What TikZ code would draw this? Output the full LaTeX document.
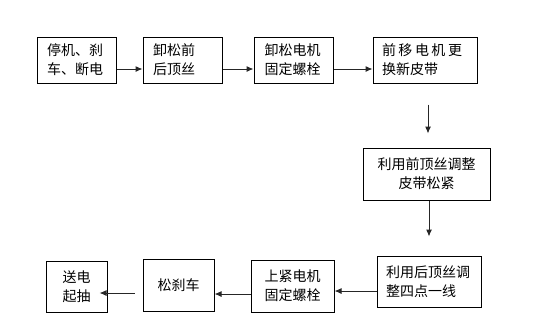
\documentclass[tikz,border=0pt]{standalone}
\usepackage{fontspec}
\newfontfamily\cjk{Noto Sans CJK SC}
\usetikzlibrary{arrows.meta}
\begin{document}
\begin{tikzpicture}[x=1pt,y=-1pt,
  box/.style={draw=black, line width=1pt, inner sep=0pt, font=\cjk\fontsize{14pt}{19pt}\selectfont},
  lbox/.style={box, align=left},
  cbox/.style={box, align=center},
  arr/.style={draw=black!85, line width=1pt, -{Latex[length=7pt,width=6pt]}}]
\useasboundingbox (0,0) rectangle (535,322);
\fill[white] (0,0) rectangle (535,322);
% top row
\node[lbox, minimum width=79pt, minimum height=46pt, text width=59pt] (b1) at (76.5,60) {停机、刹\\车、断电};
\node[lbox, minimum width=79pt, minimum height=46pt, text width=59pt] (b2) at (182.5,60) {卸松前\\后顶丝};
\node[lbox, minimum width=79pt, minimum height=46pt, text width=58pt] (b3) at (293.5,60) {卸松电机\\固定螺栓};
\node[lbox, minimum width=104pt, minimum height=46pt, text width=86pt] (b4) at (425,60) {前\hspace{2.5pt}移\hspace{2.5pt}电\hspace{2.5pt}机\hspace{2.5pt}更\\换新皮带};
% middle
\node[cbox, minimum width=127pt, minimum height=52pt] (b5) at (426.5,174) {利用前顶丝调整\\皮带松紧};
% bottom row
\node[lbox, minimum width=104pt, minimum height=51pt, text width=86pt] (b6) at (429,281.5) {利用后顶丝调\\整四点一线};
\node[cbox, minimum width=83pt, minimum height=52pt] (b7) at (292.5,286) {上紧电机\\固定螺栓};
\node[cbox, minimum width=71pt, minimum height=52pt] (b8) at (178.5,285) {松刹车};
\node[cbox, minimum width=61pt, minimum height=51pt] (b9) at (76.5,286.5) {送电\\起抽};
% connectors
\draw[arr] ([yshift=-9pt]b1.east) -- ([yshift=-9pt]b2.west);
\draw[arr] ([yshift=-9pt]b2.east) -- ([yshift=-9pt]b3.west);
\draw[arr] ([yshift=-9pt]b3.east) -- ([yshift=-9pt]b4.west);
\draw[arr] ([xshift=3pt,yshift=-21pt]b4.south) -- ([xshift=1.5pt,yshift=14pt]b5.north);
\draw[arr] ([xshift=2.5pt]b5.south) -- ([yshift=19pt]b6.north);
\draw[arr] ([yshift=-9.5pt]b6.west) -- ([yshift=-9.5pt]b6.west -| b7.east);
\draw[arr] ([yshift=-8pt]b7.west) -- ([yshift=-8pt]b7.west -| b8.east);
\draw[arr] ([xshift=-8pt,yshift=-8pt]b8.west) -- ([xshift=-8pt,yshift=-8pt]b8.west -| b9.east);
\end{tikzpicture}
\end{document}
